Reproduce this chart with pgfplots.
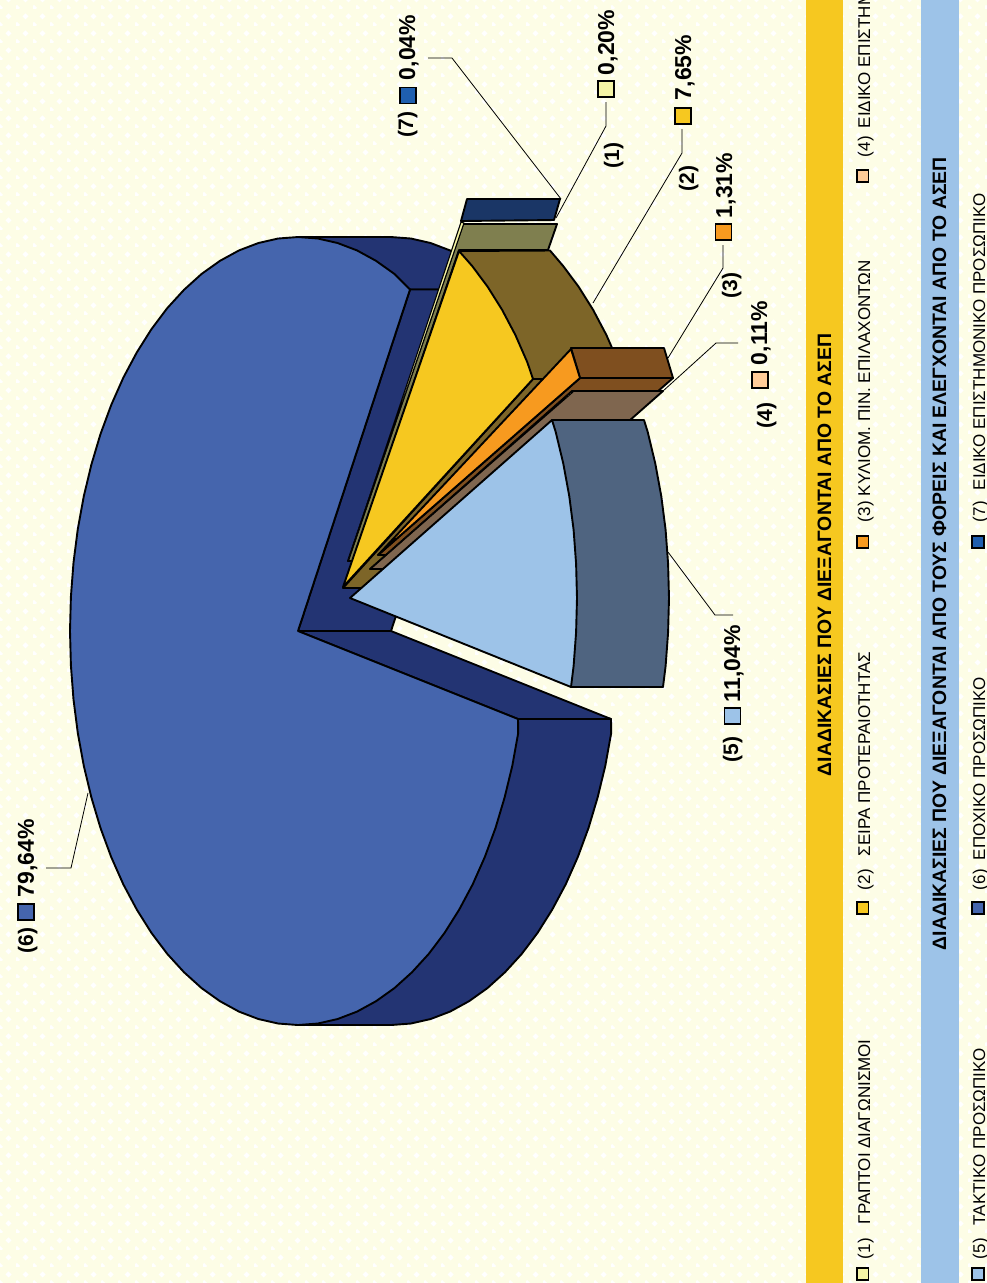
\documentclass[border=0pt]{standalone}
\usepackage{fontspec}
\setmainfont{Liberation Sans}
\usepackage{pgfplots}
\usetikzlibrary{patterns}
\pgfplotsset{compat=1.18}
\pgfdeclarepatternformonly{diam}{\pgfqpoint{-1pt}{-1pt}}{\pgfqpoint{17pt}{17pt}}{\pgfqpoint{17pt}{17pt}}{%
  \pgfpathmoveto{\pgfqpoint{0pt}{3pt}}\pgfpathlineto{\pgfqpoint{3pt}{0pt}}\pgfpathlineto{\pgfqpoint{0pt}{-3pt}}\pgfpathlineto{\pgfqpoint{-3pt}{0pt}}\pgfpathclose
  \pgfpathmoveto{\pgfqpoint{8.5pt}{11.5pt}}\pgfpathlineto{\pgfqpoint{11.5pt}{8.5pt}}\pgfpathlineto{\pgfqpoint{8.5pt}{5.5pt}}\pgfpathlineto{\pgfqpoint{5.5pt}{8.5pt}}\pgfpathclose
  \pgfusepath{fill}}
\definecolor{bgc}{HTML}{FDFDE6}
\definecolor{mainT}{HTML}{4565AD}
\definecolor{mainS}{HTML}{233473}
\definecolor{fiveT}{HTML}{9DC3E8}
\definecolor{fiveS}{HTML}{4F6480}
\definecolor{twoT}{HTML}{F6C820}
\definecolor{twoS}{HTML}{7D6528}
\definecolor{threeT}{HTML}{F79A1F}
\definecolor{threeS}{HTML}{7F4F1F}
\definecolor{fourT}{HTML}{FFCC99}
\definecolor{fourS}{HTML}{7F664F}
\definecolor{oneT}{HTML}{F5F5A5}
\definecolor{oneS}{HTML}{7F7F4F}
\definecolor{sevenT}{HTML}{1F5FAF}
\definecolor{sevenS}{HTML}{1A3666}
\tikzset{
 poly/.style={draw=black,line width=1.9pt,line join=round},
 lead/.style={draw=black,line width=0.8pt},
 lab/.style={rotate=90,anchor=base west,inner sep=0pt,outer sep=0pt,font=\fontsize{21}{25}\selectfont\bfseries},
 val/.style={rotate=90,anchor=base west,inner sep=0pt,outer sep=0pt,font=\fontsize{23}{27}\selectfont\bfseries},
 ttl/.style={rotate=90,anchor=base west,inner sep=0pt,outer sep=0pt,font=\fontsize{19.4}{23}\selectfont\bfseries},
 leg/.style={rotate=90,anchor=base west,inner sep=0pt,outer sep=0pt,font=\fontsize{17}{20}\selectfont},
}
\pgfplotsset{
 bigsq/.style={only marks,mark=square*,mark size=8pt,mark options={fill=#1,draw=black,line width=1.6pt}},
 smsq/.style={only marks,mark=square*,mark size=5.8pt,mark options={fill=#1,draw=black,line width=1.6pt}},
}
\begin{document}
\begin{tikzpicture}
\useasboundingbox (0pt,0pt) rectangle (987pt,-1283pt);
\clip (0pt,0pt) rectangle (987pt,-1283pt);
\begin{axis}[
  at={(0pt,0pt)},anchor=north west,
  scale only axis,width=987pt,height=1283pt,
  xmin=0,xmax=987,ymin=0,ymax=1283,y dir=reverse,
  hide axis,clip=false]
% background and bands
\addplot[fill=bgc,draw=none] coordinates {(0,0)(987,0)(987,1283)(0,1283)} --cycle;
\addplot[pattern=diam,pattern color=white,draw=none] coordinates {(0,0)(987,0)(987,1283)(0,1283)} --cycle;
\addplot[fill=twoT,draw=none] coordinates {(806,0)(843,0)(843,1283)(806,1283)} --cycle;
\addplot[fill=fiveT,draw=none] coordinates {(921,0)(959,0)(959,1283)(921,1283)} --cycle;
% leader lines
\addplot[lead] coordinates {(428,58)(452,58)(561,199)};
\addplot[lead] coordinates {(606,102)(606,126)(556,218)};
\addplot[lead] coordinates {(682,129)(682,153)(593,303)};
\addplot[lead] coordinates {(723,245)(723,268)(668,358)};
\addplot[lead] coordinates {(738,343)(716,343)(663,391)};
\addplot[lead] coordinates {(733,615)(715,615)(668,552)};
\addplot[lead] coordinates {(46,868)(71,868)(88,793)};
% series 6: rim
\addplot[poly,fill=mainS] coordinates {(298,631)(611,719)(611.2,733)(605.3,765.8)(597.6,797.5)(588.5,828)(577.8,857)(565.7,884.3)(552.2,909.6)(537.6,932.8)(521.8,953.8)(505,972.2)(487.4,988.1)(469,1001.2)(450,1011.6)(430.6,1019)(410.9,1023.5)(391,1025)(298,1025)} --cycle;
\addplot[poly,fill=mainS] coordinates {(298,237)(391,237)(410.9,238.5)(430.6,243)(450,250.4)(469,260.8)(487.4,273.9)(503,289.5)(410,289.5)} --cycle;
\addplot[poly,fill=mainS] coordinates {(298,631)(410,289.5)(503,289.5)(391,631)} --cycle;
\addplot[poly,fill=mainS] coordinates {(298,631)(391,631)(611,719)(518,719)} --cycle;
% series 6: top face
\addplot[poly,fill=mainT] coordinates {(298,631)(518,719)(518.2,733)(512.3,765.8)(504.6,797.5)(495.5,828)(484.8,857)(472.7,884.3)(459.2,909.6)(444.6,932.8)(428.8,953.8)(412,972.2)(394.4,988.1)(376,1001.2)(357,1011.6)(337.6,1019)(317.9,1023.5)(298,1025)(278.1,1023.5)(258.4,1019)(239,1011.6)(220,1001.2)(201.6,988.1)(184,972.2)(167.2,953.8)(151.4,932.8)(136.8,909.6)(123.3,884.3)(111.2,857)(100.5,828)(91.4,797.5)(83.8,765.8)(77.8,733)(73.5,699.4)(70.9,665.3)(70,631)(70.9,596.7)(73.5,562.6)(77.8,529)(83.8,496.2)(91.4,464.5)(100.5,434)(111.2,405)(123.3,377.7)(136.8,352.4)(151.4,329.2)(167.2,308.2)(184,289.8)(201.6,273.9)(220,260.8)(239,250.4)(258.4,243)(278.1,238.5)(298,237)(317.9,238.5)(337.6,243)(357,250.4)(376,260.8)(394.4,273.9)(410,289.5)} --cycle;
% series 7
\addplot[poly,fill=sevenS] coordinates {(467,199)(560,199)(554,220)(461,221)} --cycle;
% series 1
\addplot[poly,fill=oneS] coordinates {(348,561)(463,224)(557,224)(548,250)(459,250)(353,561)} --cycle;
\addplot[poly,fill=oneT,line width=1.1pt] coordinates {(348,561)(461,222)(464,223)} --cycle;
% series 2: side faces, top face
\addplot[poly,fill=twoS] coordinates {(459,251)(550,250.5)(563.1,265.9)(578.6,286.7)(593.1,309.8)(606.4,335)(618.3,362.2)(624,379)(533,379)} --cycle;
\addplot[poly,fill=twoS] coordinates {(343,588)(533,379)(624,379)(434,588)} --cycle;
\addplot[poly,fill=twoT] coordinates {(343,587)(459,251)(472.1,265.9)(487.6,286.7)(502.1,309.8)(515.4,335)(527.3,362.2)(533,379)} --cycle;
% series 3
\addplot[poly,fill=threeS] coordinates {(571,348)(664,348)(673,378)(580,378)} --cycle;
\addplot[poly,fill=threeS] coordinates {(378,555)(580,378)(673,378)(471,555)} --cycle;
\addplot[poly,fill=threeT] coordinates {(378,555)(571,349)(580,378)} --cycle;
% series 4
\addplot[poly,fill=fourS] coordinates {(370,569)(572,391)(663,391)(461,569)} --cycle;
\addplot[poly,fill=fourT,line width=1pt] coordinates {(370,569)(572,391)(573,392)} --cycle;
% series 5
\addplot[poly,fill=fiveS] coordinates {(552,420)(644,420)(647.7,431.9)(655.3,463.6)(661.3,496.3)(665.6,529.8)(668.1,563.7)(669,598)(668.1,632.3)(665.6,666.2)(663,687)(571,687)} --cycle;
\addplot[poly,fill=fiveT] coordinates {(350,598)(552,420)(555.7,431.9)(563.3,463.6)(569.3,496.3)(573.6,529.8)(576.1,563.7)(577,598)(576.1,632.3)(573.6,666.2)(571,687)} --cycle;
% data-label keys
\addplot[bigsq=mainT] coordinates {(26,912)};
\addplot[bigsq=sevenT] coordinates {(408,95.5)};
\addplot[bigsq=oneT] coordinates {(606,89)};
\addplot[bigsq=twoT] coordinates {(683,116)};
\addplot[bigsq=threeT] coordinates {(723.5,232)};
\addplot[bigsq=fourT] coordinates {(760,380)};
\addplot[bigsq=fiveT] coordinates {(732.5,716)};
% legend keys
\addplot[smsq=oneT] coordinates {(862.5,1274)};
\addplot[smsq=twoT] coordinates {(862.5,908)};
\addplot[smsq=threeT] coordinates {(862.5,542)};
\addplot[smsq=fourT] coordinates {(862.5,176)};
\addplot[smsq=fiveT] coordinates {(978,1274)};
\addplot[smsq=mainT] coordinates {(978,908)};
\addplot[smsq=sevenT] coordinates {(978,542)};
% data labels
\node[lab] at (axis cs:33,953) {(6)};
\node[val] at (axis cs:34,897) {79,64\%};
\node[lab] at (axis cs:413,137) {(7)};
\node[val] at (axis cs:415,80) {0,04\%};
\node[lab] at (axis cs:619,168) {(1)};
\node[val] at (axis cs:614,75) {0,20\%};
\node[lab] at (axis cs:694,191) {(2)};
\node[val] at (axis cs:691,100) {7,65\%};
\node[lab] at (axis cs:737,298) {(3)};
\node[val] at (axis cs:732,218) {1,31\%};
\node[lab] at (axis cs:772,428) {(4)};
\node[val] at (axis cs:767,365) {0,11\%};
\node[lab] at (axis cs:738,762) {(5)};
\node[val] at (axis cs:740,702) {11,04\%};
% titles
\node[ttl] at (axis cs:831,776) {ΔΙΑΔΙΚΑΣΙΕΣ ΠΟΥ ΔΙΕΞΑΓΟΝΤΑΙ ΑΠΟ ΤΟ ΑΣΕΠ};
\node[ttl] at (axis cs:946,950) {ΔΙΑΔΙΚΑΣΙΕΣ ΠΟΥ ΔΙΕΞΑΓΟΝΤΑΙ ΑΠΟ ΤΟΥΣ ΦΟΡΕΙΣ ΚΑΙ ΕΛΕΓΧΟΝΤΑΙ ΑΠΟ ΤΟ ΑΣΕΠ};
% legend
\node[leg] at (axis cs:870,1259) {(1)\hspace{14pt}ΓΡΑΠΤΟΙ ΔΙΑΓΩΝΙΣΜΟΙ};
\node[leg] at (axis cs:870,890) {(2)\hspace{13pt}ΣΕΙΡΑ ΠΡΟΤΕΡΑΙΟΤΗΤΑΣ};
\node[leg] at (axis cs:870,522) {(3)\hspace{5pt}ΚΥΛΙΟΜ. ΠΙΝ. ΕΠΙΛΑΧΟΝΤΩΝ};
\node[leg] at (axis cs:870,157) {(4)\hspace{8pt}ΕΙΔΙΚΟ ΕΠΙΣΤΗΜΟΝΙΚΟ ΠΡΟΣΩΠΙΚΟ};
\node[leg] at (axis cs:985,1259) {(5)\hspace{13pt}ΤΑΚΤΙΚΟ ΠΡΟΣΩΠΙΚΟ};
\node[leg] at (axis cs:985,890) {(6)\hspace{9pt}ΕΠΟΧΙΚΟ ΠΡΟΣΩΠΙΚΟ};
\node[leg] at (axis cs:985,522) {(7)\hspace{11pt}ΕΙΔΙΚΟ ΕΠΙΣΤΗΜΟΝΙΚΟ ΠΡΟΣΩΠΙΚΟ};
\end{axis}
\end{tikzpicture}
\end{document}
